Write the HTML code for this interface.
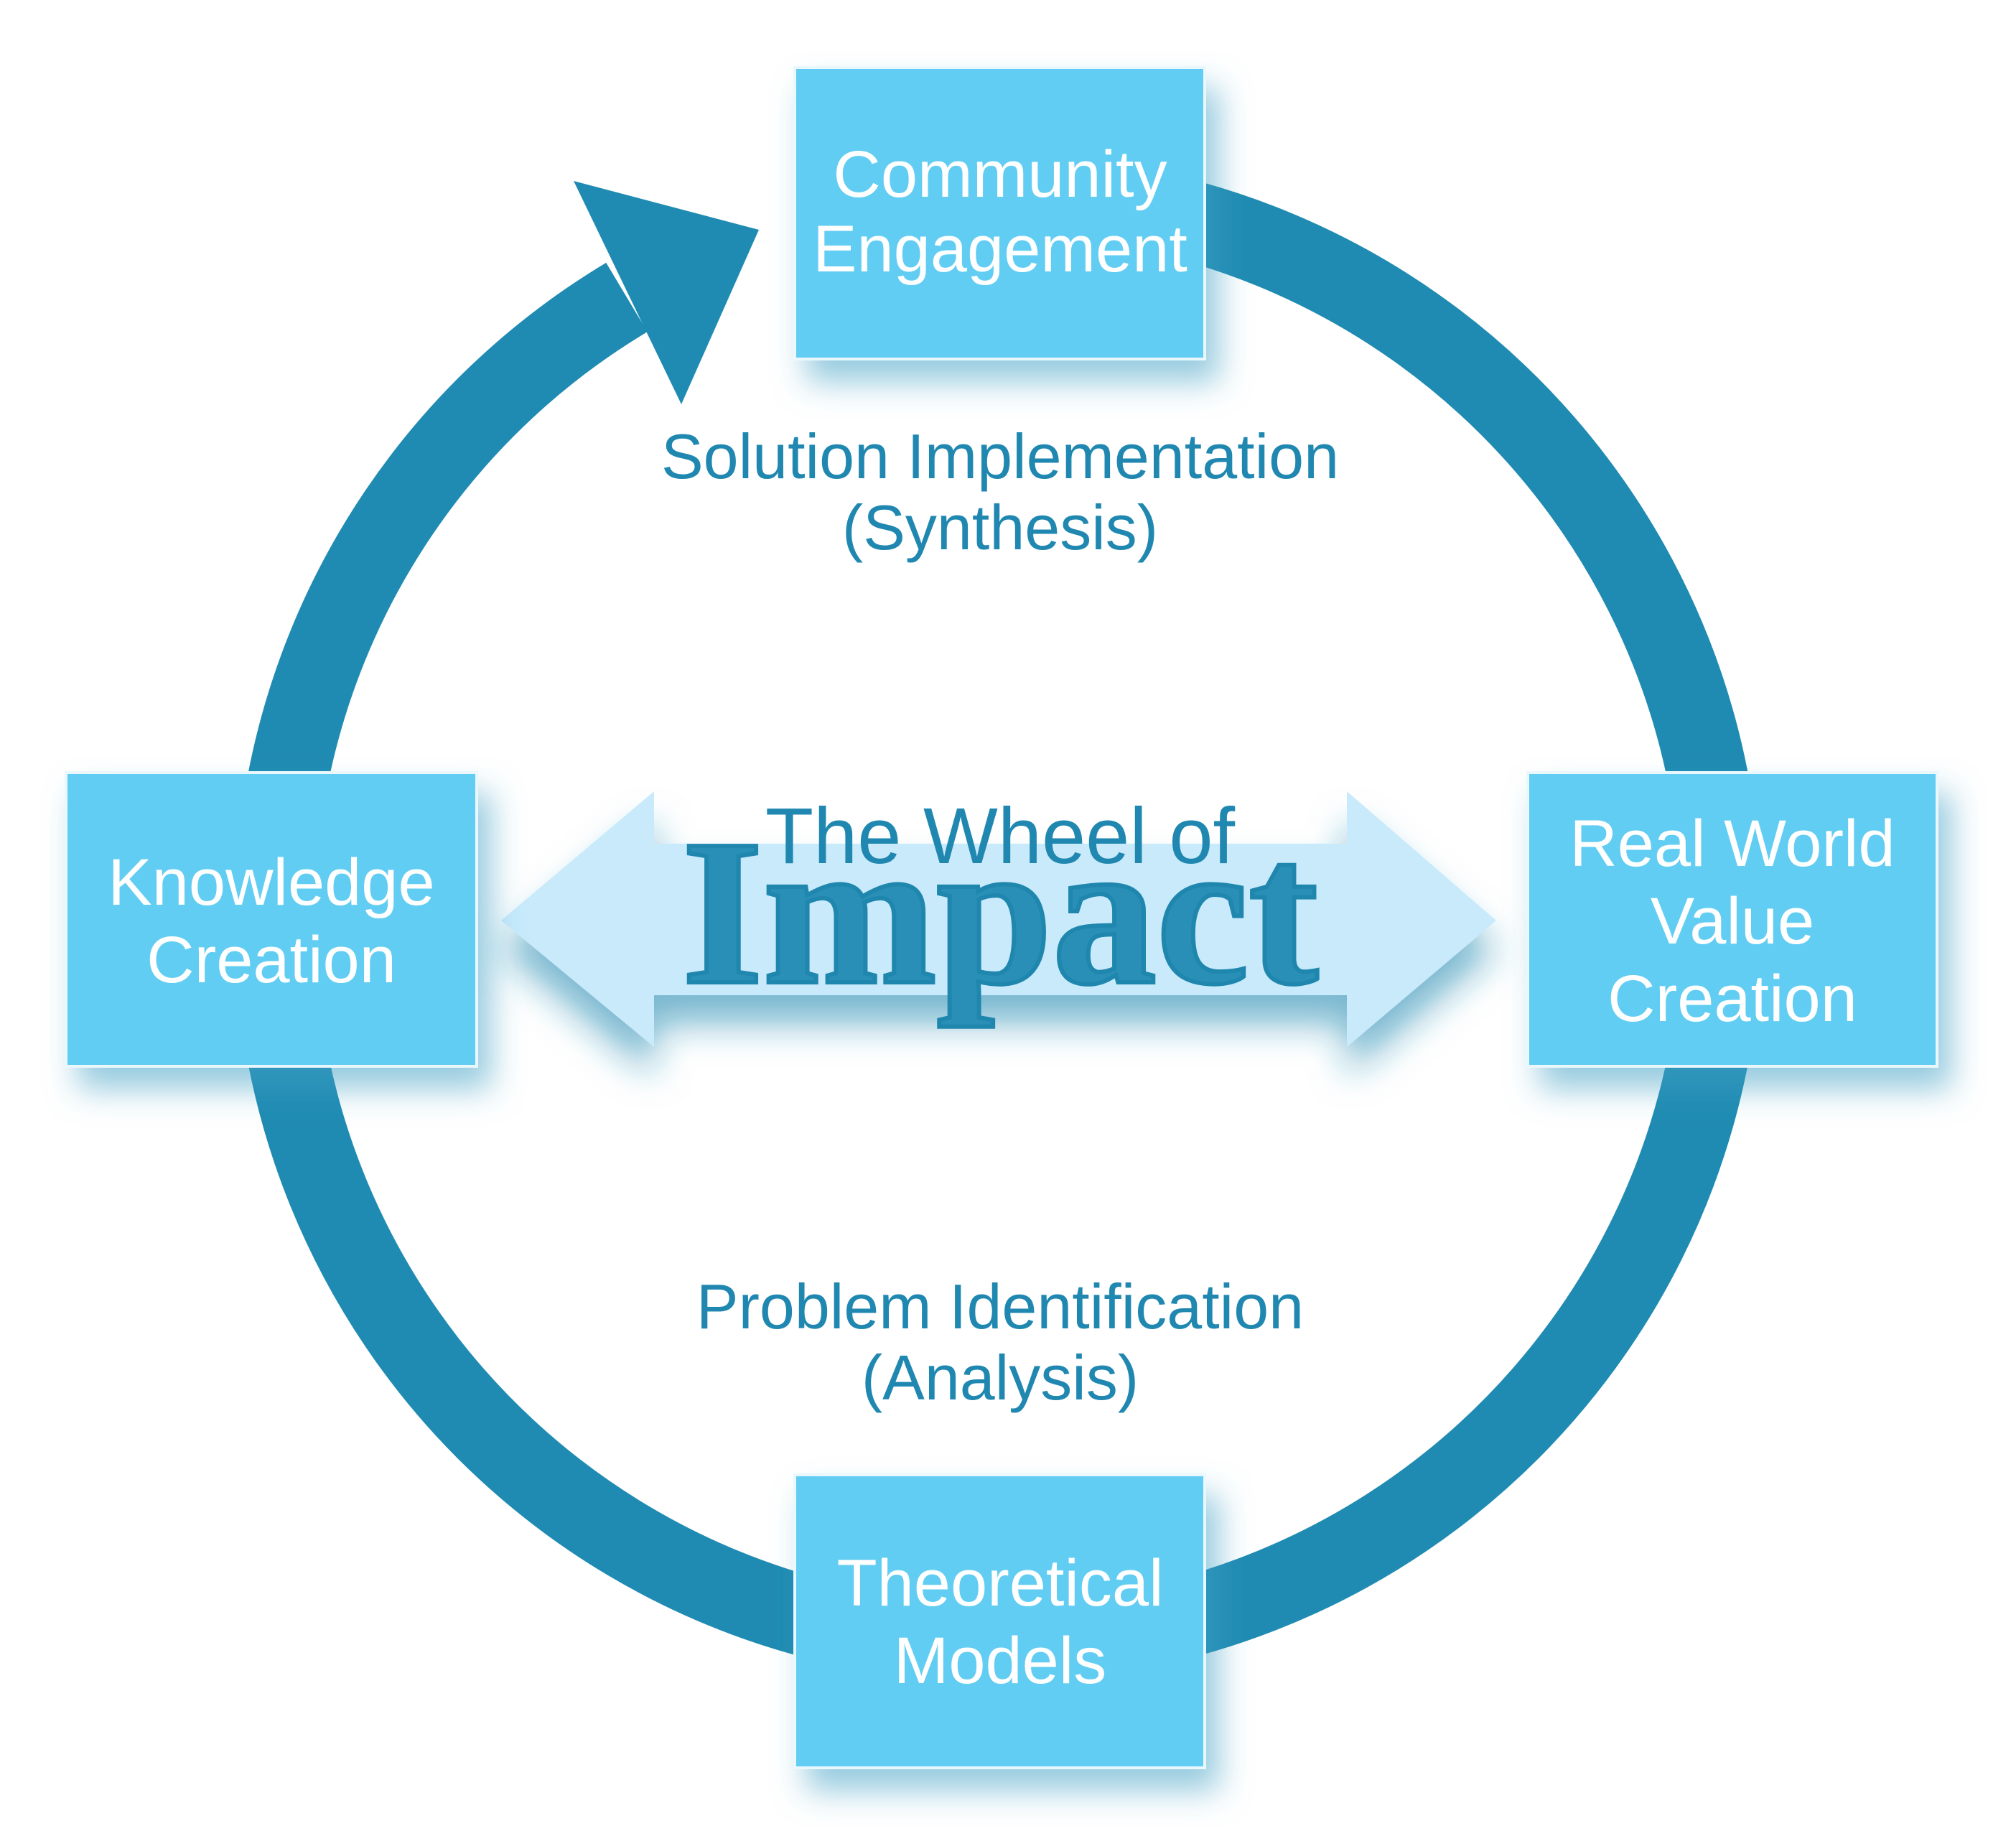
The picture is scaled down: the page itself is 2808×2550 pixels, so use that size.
<!DOCTYPE html>
<html><head><meta charset="utf-8"><style>
html,body{margin:0;padding:0;background:#fff;}
svg{display:block;}
</style></head><body>
<svg width="2808" height="2550" viewBox="0 0 2808 2550" xmlns="http://www.w3.org/2000/svg">
<defs>
<filter id="sh" x="-20%" y="-20%" width="150%" height="150%">
<feGaussianBlur in="SourceAlpha" stdDeviation="22"/>
<feOffset dx="18" dy="30" result="b"/>
<feFlood flood-color="#3f9fc4" flood-opacity="0.55"/>
<feComposite in2="b" operator="in"/>
<feMerge><feMergeNode/><feMergeNode in="SourceGraphic"/></feMerge>
</filter>
<filter id="sh2" x="-20%" y="-30%" width="140%" height="170%">
<feGaussianBlur in="SourceAlpha" stdDeviation="25"/>
<feOffset dx="0" dy="40" result="b"/>
<feFlood flood-color="#1f88b0" flood-opacity="0.6"/>
<feComposite in2="b" operator="in"/>
<feMerge><feMergeNode/><feMergeNode in="SourceGraphic"/></feMerge>
</filter>
</defs>
<path d="M 873 414 A 1008 1008 0 1 0 1568 287" fill="none" stroke="#208bb2" stroke-width="112"/>
<polygon points="799,252 1057,320 949,563" fill="#208bb2"/>

<polygon filter="url(#sh2)" points="698,1282 911,1102 911,1175 1876,1175 1876,1102 2084,1282 1876,1458 1876,1386 911,1386 911,1458" fill="#c8eafb"/>

<g filter="url(#sh)" fill="#62cdf2" stroke="#eaf8fe" stroke-width="4">
<rect x="1107" y="94" width="571" height="406"/>
<rect x="92" y="1076" width="572" height="409"/>
<rect x="2128" y="1076" width="570" height="409"/>
<rect x="1107" y="2054" width="571" height="408"/>
</g>

<g font-family="Liberation Sans, sans-serif" font-size="92" fill="#ffffff" text-anchor="middle">
<text x="1393" y="274">Community</text>
<text x="1393" y="378">Engagement</text>
<text x="378" y="1260">Knowledge</text>
<text x="378" y="1368">Creation</text>
<text x="2413" y="1206">Real World</text>
<text x="2413" y="1314">Value</text>
<text x="2413" y="1422">Creation</text>
<text x="1393" y="2236">Theoretical</text>
<text x="1393" y="2344">Models</text>
</g>
<g font-family="Liberation Sans, sans-serif" font-size="88" fill="#2088b0" text-anchor="middle">
<text x="1393" y="666">Solution Implementation</text>
<text x="1393" y="765">(Synthesis)</text>
<text x="1393" y="1850">Problem Identification</text>
<text x="1393" y="1949">(Analysis)</text>
<text x="1393" y="1202" font-size="110">The Wheel of</text>
</g>
<text x="1393" y="1368" text-anchor="middle" font-family="Liberation Serif, serif" font-weight="bold" font-size="290" fill="#2a8fb6" stroke="#1f86ae" stroke-width="6">Impact</text>
</svg>
</body></html>
